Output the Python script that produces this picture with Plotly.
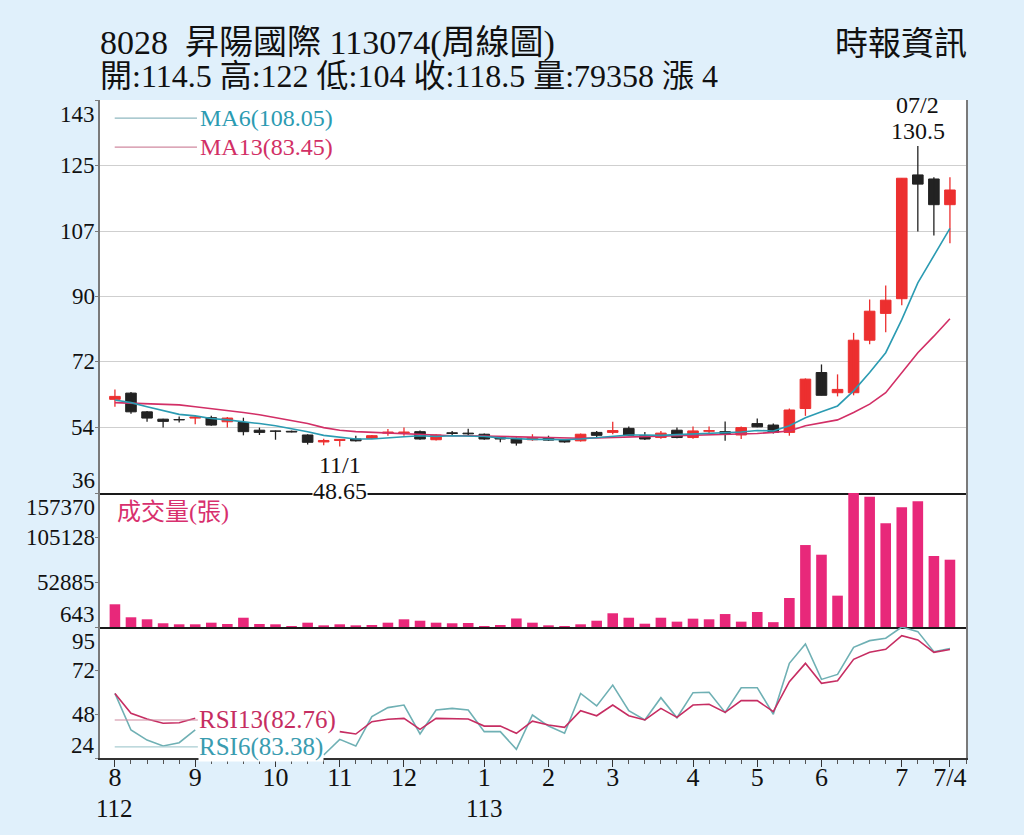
import plotly.graph_objects as go
from plotly.subplots import make_subplots

# weekly bars, 112/8 .. 113/7/4
weeks = list(range(53))

opens = [61.5, 63.2, 58.1, 56.1, 56.0, 56.4, 56.5, 55.4, 55.2, 53.1,
         52.9, 52.8, 51.8, 49.9, 50.3, 50.7, 50.9, 52.3, 52.4, 52.7,
         50.5, 52.4, 52.3, 52.0, 51.1, 50.9, 50.5, 51.1, 50.5, 50.2,
         52.5, 52.5, 53.6, 51.6, 51.1, 53.1, 51.1, 52.8, 52.7, 51.8,
         54.9, 54.5, 52.5, 59.0, 68.8, 63.3, 63.3, 77.6, 84.9, 88.9,
         122.6, 121.5, 114.5]
highs = [64.2, 63.5, 58.3, 56.2, 56.8, 56.9, 57.0, 56.7, 56.5, 53.8,
         53.0, 53.0, 52.0, 50.8, 50.7, 51.6, 51.8, 53.4, 53.8, 53.0,
         52.0, 52.9, 53.5, 52.2, 51.3, 51.1, 52.0, 51.6, 50.7, 52.2,
         52.9, 55.4, 54.1, 52.6, 52.9, 53.8, 54.1, 54.1, 55.5, 54.1,
         56.3, 54.9, 59.0, 67.2, 71.0, 68.3, 79.6, 88.7, 92.5, 121.7,
         130.5, 122.0, 122.0]
lows = [59.5, 57.6, 55.4, 53.8, 55.2, 54.7, 54.3, 53.8, 51.7, 51.8,
        50.5, 52.5, 49.2, 49.0, 48.65, 50.0, 50.7, 51.6, 51.6, 50.5,
        50.3, 51.7, 51.6, 50.5, 49.8, 48.9, 50.2, 50.2, 49.7, 50.0,
        51.1, 52.0, 51.6, 50.4, 50.8, 50.9, 50.8, 52.0, 50.2, 50.7,
        53.9, 52.2, 51.6, 57.0, 62.6, 62.3, 62.6, 76.5, 79.8, 87.1,
        107.2, 106.1, 104.0]
closes = [62.3, 58.1, 56.4, 55.5, 55.9, 56.7, 54.5, 56.4, 52.7, 52.5,
          52.8, 52.6, 49.8, 50.3, 50.6, 50.2, 51.6, 52.6, 52.6, 50.7,
          51.8, 52.2, 52.1, 50.7, 50.7, 49.6, 51.1, 50.4, 49.9, 52.0,
          51.7, 53.0, 51.7, 50.7, 52.3, 51.1, 52.9, 53.0, 52.2, 53.8,
          54.0, 52.5, 58.6, 67.0, 62.6, 64.2, 77.6, 85.5, 88.5, 121.7,
          120.1, 114.5, 118.5]

ma6 = [61.3, 60.6, 59.5, 58.4, 57.4, 57.0, 56.3, 55.9, 55.5, 54.9,
       54.3, 53.6, 52.7, 51.7, 51.1, 50.7, 50.7, 50.9, 51.3, 51.6,
       51.4, 51.6, 51.6, 51.4, 51.0, 50.7, 50.6, 50.6, 50.5, 50.7,
       51.0, 51.4, 51.8, 51.8, 51.7, 51.9, 52.1, 52.1, 52.3, 52.6,
       53.0, 52.9, 54.3, 56.5, 58.1, 59.7, 63.8, 68.8, 74.2, 83.2,
       93.2, 100.5, 108.05]
ma13 = [60.6, 60.4, 60.3, 60.2, 60.0, 59.5, 59.0, 58.5, 57.9, 57.3,
        56.5, 55.8, 54.9, 53.8, 53.1, 52.7, 52.5, 52.3, 52.2, 52.0,
        51.8, 51.6, 51.6, 51.5, 51.4, 51.3, 51.2, 51.1, 51.0, 50.9,
        51.0, 51.1, 51.3, 51.4, 51.5, 51.6, 51.7, 51.8, 51.9, 52.0,
        52.2, 52.5, 52.9, 54.3, 55.2, 55.9, 57.9, 60.2, 63.3, 68.8,
        74.2, 78.7, 83.45]

volumes = [27200, 12000, 9650, 5000, 3800, 3800, 5700, 4150, 11500, 4150,
           3800, 900, 5700, 2600, 3800, 2600, 3000, 5700, 9650, 8000,
           5700, 5000, 5300, 900, 3000, 10600, 5700, 2600, 900, 3800,
           8000, 16700, 11500, 4500, 11500, 6900, 10400, 9650, 15800, 6900,
           18200, 6300, 34600, 96500, 85200, 37300, 157370, 153000, 121900, 140600,
           147700, 83700, 79358]

# values hidden behind the RSI labels are left empty
rsi6 = [59.0, 39.2, 33.7, 30.5, 32.3, 39.2, None, None, None, None,
        None, None, None, 25.6, 34.1, 30.5, 46.4, 51.3, 52.7, 37.0,
        50.0, 50.9, 50.0, 38.3, 38.3, 28.7, 47.3, 41.3, 37.4, 59.0,
        52.2, 63.5, 49.6, 44.6, 56.7, 45.8, 59.4, 59.6, 48.7, 62.1,
        62.1, 47.7, 75.3, 85.8, 66.6, 69.3, 84.0, 87.6, 88.9, 95.0,
        92.5, 81.6, 83.38]
rsi13 = [59.0, 48.2, 45.1, 42.8, 43.1, 45.5, None, None, None, None,
         None, None, None, None, 38.3, 37.0, 43.7, 45.0, 45.5, 39.5,
         45.5, 45.5, 45.1, 41.3, 41.3, 37.4, 44.0, 41.9, 40.6, 49.6,
         46.9, 52.7, 46.9, 44.6, 50.9, 46.0, 52.7, 53.1, 48.7, 55.1,
         55.1, 49.1, 65.4, 75.3, 64.5, 65.9, 77.5, 81.3, 82.9, 90.3,
         88.0, 81.3, 82.76]

price_ticks = [36, 53.83, 71.67, 89.5, 107.33, 125.17, 143]
price_labels = ["36", "54", "72", "90", "107", "125", "143"]
vol_ticks = [643, 52885, 105128, 157370]
vol_labels = ["643", "52885", "105128", "157370"]
rsi_ticks = [24, 47.67, 71.33, 95]
rsi_labels = ["24", "48", "72", "95"]

month_pos = [0, 5, 10, 14, 18, 23, 27, 31, 36, 40, 44, 49, 52]
month_labels = ["8", "9", "10", "11", "12", "1", "2", "3",
                "4", "5", "6", "7", "7/4"]
year_pos = [0, 23]
year_labels = ["112", "113"]

RED = "#ec2f2f"
BLACK = "#222222"
PINK = "#e8287a"
TEAL = "#2b9bb2"
MAGENTA = "#d22f66"
RSI6_C = "#6fb0b4"
RSI13_C = "#c62d62"
BG = "#e0f0fb"
FONT = "Liberation Serif, 'Noto Sans CJK TC', serif"

fig = make_subplots(rows=3, cols=1, shared_xaxes=True, vertical_spacing=0,
                    row_heights=[393, 134, 131])

up = [c >= o for o, c in zip(opens, closes)]
body_col = [RED if u else BLACK for u in up]

# wicks
for flag, col in [(True, RED), (False, BLACK)]:
    wx, wy = [], []
    for i in weeks:
        if up[i] == flag:
            wx += [i, i, None]
            wy += [lows[i], highs[i], None]
    fig.add_trace(go.Scatter(x=wx, y=wy, mode="lines",
                             line=dict(color=col, width=1.3),
                             hoverinfo="skip"), row=1, col=1)

# candle bodies
fig.add_trace(go.Bar(x=weeks, y=[c - o for o, c in zip(opens, closes)], base=opens,
                     width=0.66, marker=dict(color=body_col,
                                             line=dict(color=body_col, width=1)),
                     hoverinfo="skip"), row=1, col=1)

fig.add_trace(go.Scatter(x=weeks, y=ma13, mode="lines",
                         line=dict(color=MAGENTA, width=1.6)), row=1, col=1)
fig.add_trace(go.Scatter(x=weeks, y=ma6, mode="lines",
                         line=dict(color=TEAL, width=1.6)), row=1, col=1)

fig.add_trace(go.Bar(x=weeks, y=volumes, width=0.66,
                     marker=dict(color=PINK, line=dict(width=0))), row=2, col=1)

fig.add_trace(go.Scatter(x=weeks, y=rsi6, mode="lines", connectgaps=False,
                         line=dict(color=RSI6_C, width=1.6)), row=3, col=1)
fig.add_trace(go.Scatter(x=weeks, y=rsi13, mode="lines", connectgaps=False,
                         line=dict(color=RSI13_C, width=1.6)), row=3, col=1)

xcommon = dict(range=[-0.93, 53.0], showgrid=False, zeroline=False,
               showline=True, linewidth=1.5)
fig.update_xaxes(**xcommon, linecolor="#1a1a1a", showticklabels=False, ticks="",
                 row=1, col=1)
fig.update_xaxes(**xcommon, linecolor="#1a1a1a", showticklabels=False, ticks="",
                 row=2, col=1)
fig.update_xaxes(**xcommon, linecolor="#333333", tickmode="array",
                 tickvals=month_pos, ticktext=month_labels, ticks="outside",
                 ticklen=7, tickcolor="#333333", tickwidth=1.2,
                 ticklabelstandoff=-12,
                 minor=dict(tickmode="linear", tick0=0, dtick=1, ticks="outside",
                            ticklen=4, tickcolor="#555555"),
                 tickfont=dict(family=FONT, size=26, color="#111111"),
                 row=3, col=1)

ycommon = dict(showticklabels=False, zeroline=False, showline=True, mirror=True,
               linecolor="#7a7a7a", linewidth=2, ticks="outside", ticklen=3,
               tickcolor="#7a7a7a")
fig.update_yaxes(**ycommon, range=[36, 143], tickvals=price_ticks,
                 showgrid=True, gridcolor="#cfcfcf", gridwidth=1.2, row=1, col=1)
fig.update_yaxes(**ycommon, range=[643, 157370], tickvals=vol_ticks,
                 showgrid=False, row=2, col=1)
fig.update_yaxes(**ycommon, range=[24, 95], tickvals=rsi_ticks,
                 showgrid=False, row=3, col=1)

ann = []
# y tick labels, edge labels pulled inside the panel
for yref, vals, labels in [("y", price_ticks, price_labels),
                           ("y2", vol_ticks, vol_labels),
                           ("y3", rsi_ticks, rsi_labels)]:
    for k, (v, t) in enumerate(zip(vals, labels)):
        shift = 0
        if k == 0:
            shift = 13
        elif k == len(vals) - 1:
            shift = -14
        ann.append(dict(xref="paper", yref=yref, x=0, y=v, text=t,
                        xanchor="right", yanchor="middle", xshift=-3, yshift=shift,
                        showarrow=False,
                        font=dict(family=FONT, size=23, color="#111111")))

# year under the month tick
for p, t in zip(year_pos, year_labels):
    ann.append(dict(xref="x3", yref="y3 domain", x=p, y=0, text=t,
                    xanchor="center", yanchor="middle", yshift=-50, showarrow=False,
                    font=dict(family=FONT, size=25, color="#111111")))

title_font = dict(family=FONT, size=34, color="#111111")
ann += [
    dict(xref="paper", yref="paper", x=-0.002, y=1.087, xanchor="left", yanchor="middle",
         text="8028  昇陽國際 113074(周線圖)", showarrow=False, font=title_font),
    dict(xref="paper", yref="paper", x=-0.002, y=1.036, xanchor="left", yanchor="middle",
         text="開:114.5 高:122 低:104 收:118.5 量:79358 漲 4", showarrow=False,
         font=dict(family=FONT, size=32, color="#111111")),
    dict(xref="paper", yref="paper", x=1.003, y=1.085, xanchor="right", yanchor="middle",
         text="時報資訊", showarrow=False, font=dict(family=FONT, size=33, color="#111111")),
    dict(xref="paper", yref="y domain", x=0.113, y=0.954, xanchor="left", yanchor="middle",
         text="MA6(108.05)", showarrow=False,
         font=dict(family=FONT, size=24, color=TEAL)),
    dict(xref="paper", yref="y domain", x=0.113, y=0.880, xanchor="left", yanchor="middle",
         text="MA13(83.45)", showarrow=False,
         font=dict(family=FONT, size=24, color=MAGENTA)),
    dict(xref="paper", yref="y2 domain", x=0.017, y=0.86, xanchor="left", yanchor="middle",
         text="成交量(張)", showarrow=False,
         font=dict(family=FONT, size=24, color="#d8306e")),
    dict(xref="paper", yref="y3 domain", x=0.113, y=0.29, xanchor="left", yanchor="middle",
         text="RSI13(82.76)", showarrow=False, bgcolor="white", borderpad=0,
         font=dict(family=FONT, size=25, color=RSI13_C)),
    dict(xref="paper", yref="y3 domain", x=0.113, y=0.085, xanchor="left", yanchor="middle",
         text="RSI6(83.38)", showarrow=False, bgcolor="white", borderpad=0,
         font=dict(family=FONT, size=25, color="#3a9cb0")),
    dict(xref="x", yref="y", x=50, y=highs[50], text="130.5", xanchor="center",
         yanchor="bottom", yshift=0, showarrow=False,
         font=dict(family=FONT, size=24, color="#111111")),
    dict(xref="x", yref="y", x=50, y=highs[50], text="07/2", xanchor="center",
         yanchor="bottom", yshift=26, showarrow=False,
         font=dict(family=FONT, size=24, color="#111111")),
    dict(xref="x", yref="y", x=14, y=min(lows), text="11/1", xanchor="center",
         yanchor="top", yshift=-3, showarrow=False,
         font=dict(family=FONT, size=24, color="#111111")),
    dict(xref="x", yref="y", x=14, y=min(lows), text="48.65", xanchor="center",
         yanchor="top", yshift=-30, showarrow=False, bgcolor="white", borderpad=0,
         font=dict(family=FONT, size=24, color="#111111")),
]

# legend stubs
shapes = [
    dict(type="line", xref="paper", yref="y domain", x0=0.017, x1=0.112,
         y0=0.954, y1=0.954, line=dict(color="#8fb8c0", width=1.2)),
    dict(type="line", xref="paper", yref="y domain", x0=0.017, x1=0.112,
         y0=0.880, y1=0.880, line=dict(color="#d08aa0", width=1.2)),
    dict(type="line", xref="paper", yref="y3 domain", x0=0.017, x1=0.113,
         y0=0.29, y1=0.29, line=dict(color="#d08aa0", width=1.2)),
    dict(type="line", xref="paper", yref="y3 domain", x0=0.017, x1=0.113,
         y0=0.085, y1=0.085, line=dict(color="#a9cdd2", width=1.2)),
]

fig.update_layout(
    width=1024, height=835,
    margin=dict(l=100, r=58, t=100, b=77),
    paper_bgcolor=BG, plot_bgcolor="white",
    showlegend=False, barmode="overlay", hovermode=False,
    annotations=ann, shapes=shapes,
    font=dict(family=FONT, color="#111111"),
)

fig.write_html("out.html", config={"displayModeBar": False},
               post_script="document.body.style.margin='0px';"
                           "document.body.style.overflow='hidden';")
